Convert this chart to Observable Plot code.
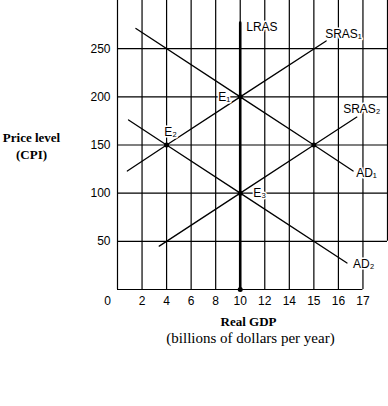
<!DOCTYPE html>
<html>
<head>
<meta charset="utf-8">
<script src="https://cdn.jsdelivr.net/npm/d3@7"></script>
<script src="https://cdn.jsdelivr.net/npm/@observablehq/plot@0.6"></script>
<style>
  html, body { margin: 0; padding: 0; background: #fff; }
</style>
</head>
<body>
<div id="chart"></div>
<script>
// GDP tick values (last one is an unlabelled grid line)
const gdpTicks = [0, 2, 4, 6, 8, 10, 12, 14, 15, 16, 17, 18];
const xTickLabels = ["0", "2", "4", "6", "8", "10", "12", "14", "15", "16", "17"];
const priceTicks = [50, 100, 150, 200, 250];
const priceTickLabels = ["50", "100", "150", "200", "250"];

// Curves: [real GDP, price level]
const sras1 = [[0.8, 123], [4, 150], [10, 200], [15.5, 258]];
const ad1   = [[1.5, 271], [10, 200], [15, 150], [16.6, 123]];
const ad2   = [[0.9, 176], [4, 150], [10, 100], [16.35, 27.5]];
const sras2 = [[3.4, 45], [10, 100], [15, 150], [16.75, 179]];
const lras  = [[10, 0], [10, 277]];
const points = [[4, 150], [10, 200], [15, 150], [10, 100], [10, 0]];

const curveNames = ["LRAS", "SRAS\u2081", "SRAS\u2082", "AD\u2081", "AD\u2082"];
const eqNames = ["E\u2081", "E\u2082", "E\u2083"];
const yTitle = "Price level\n(CPI)";
const xTitle = "Real GDP";
const xSubtitle = "(billions of dollars per year)";

// the axis is evenly spaced by tick index, not by value
const slot = d3.scaleLinear().domain(gdpTicks).range(gdpTicks.map((_, i) => i));
const last = (a) => a[a.length - 1];

const sans = "Liberation Sans, Arial, sans-serif";
const serif = "Liberation Serif, Times New Roman, serif";

const lineOpts = {x: d => slot(d[0]), y: d => d[1], stroke: "black", strokeWidth: 1.3};
const lbl = (text, pt, opts) => Plot.text([text], {
  x: () => slot(pt[0]), y: () => pt[1], text: d => d,
  fontFamily: sans, fontSize: 12, fill: "black", stroke: "white", strokeWidth: 3, paintOrder: "stroke", ...opts
});

const chart = Plot.plot({
  width: 388,
  height: 406,
  marginLeft: 117,
  marginRight: 1,
  marginTop: 0,
  marginBottom: 117,
  x: {domain: [0, 11], axis: null},
  y: {domain: [0, 300], axis: null},
  marks: [
    // grid
    Plot.ruleX(gdpTicks.slice(1, 11), {x: d => slot(d), y1: 0, y2: 300, stroke: "black", strokeWidth: 1.2}),
    Plot.ruleX([gdpTicks[11]], {x: d => slot(d), y1: 50, y2: 300, stroke: "black", strokeWidth: 1.2}),
    Plot.ruleY(priceTicks, {y: d => d, x1: 0, x2: slot(gdpTicks[11]), stroke: "black", strokeWidth: 1.2}),
    Plot.ruleX([0], {x: d => slot(d), y1: 0, y2: 300, stroke: "black", strokeWidth: 1.2}),
    Plot.ruleY([0], {y: d => d, x1: 0, x2: slot(17), stroke: "black", strokeWidth: 1.2}),
    // tick labels
    Plot.text(priceTicks, {x: () => 0, y: d => d, text: (d, i) => priceTickLabels[i], textAnchor: "end", dx: -7,
      fontFamily: sans, fontSize: 12, fill: "black"}),
    Plot.text(gdpTicks.slice(1, 11), {x: d => slot(d), y: () => 0, text: (d, i) => xTickLabels[i + 1], dy: 12,
      fontFamily: sans, fontSize: 12, fill: "black"}),
    Plot.text([gdpTicks[0]], {x: d => slot(d), y: () => 0, text: () => xTickLabels[0], dx: -10, dy: 12,
      fontFamily: sans, fontSize: 12, fill: "black"}),
    // curves
    Plot.line(sras1, lineOpts),
    Plot.line(ad1, lineOpts),
    Plot.line(ad2, lineOpts),
    Plot.line(sras2, lineOpts),
    Plot.line(lras, {...lineOpts, strokeWidth: 2.6}),
    Plot.dot(points, {x: d => slot(d[0]), y: d => d[1], r: 2.5, fill: "black"}),
    // curve labels
    lbl(curveNames[0], last(lras), {textAnchor: "start", dx: 6, dy: 4}),
    lbl(curveNames[1], last(sras1), {textAnchor: "start", dx: -1, dy: -7}),
    lbl(curveNames[2], last(sras2), {textAnchor: "middle", dx: 5, dy: -8}),
    lbl(curveNames[3], last(ad1), {textAnchor: "start", dx: 3, dy: 2}),
    lbl(curveNames[4], last(ad2), {textAnchor: "start", dx: 6, dy: 1}),
    lbl(eqNames[0], points[1], {textAnchor: "end", dx: -10, dy: 0}),
    lbl(eqNames[1], points[0], {textAnchor: "middle", dx: 4, dy: -13}),
    lbl(eqNames[2], points[3], {textAnchor: "start", dx: 13, dy: 0}),
    // axis titles
    Plot.text([yTitle], {frameAnchor: "left", textAnchor: "middle", dx: -86, text: d => d, lineHeight: 1.3,
      fontFamily: serif, fontSize: 13, fontWeight: "bold", fill: "black"}),
    Plot.text([xTitle], {frameAnchor: "bottom", dx: -4, dy: 36, text: d => d,
      fontFamily: serif, fontSize: 13, fontWeight: "bold", fill: "black"}),
    Plot.text([xSubtitle], {frameAnchor: "bottom", dx: -2, dy: 53, text: d => d,
      fontFamily: serif, fontSize: 15, fill: "black"})
  ]
});
document.getElementById("chart").appendChild(chart);
</script>
</body>
</html>
